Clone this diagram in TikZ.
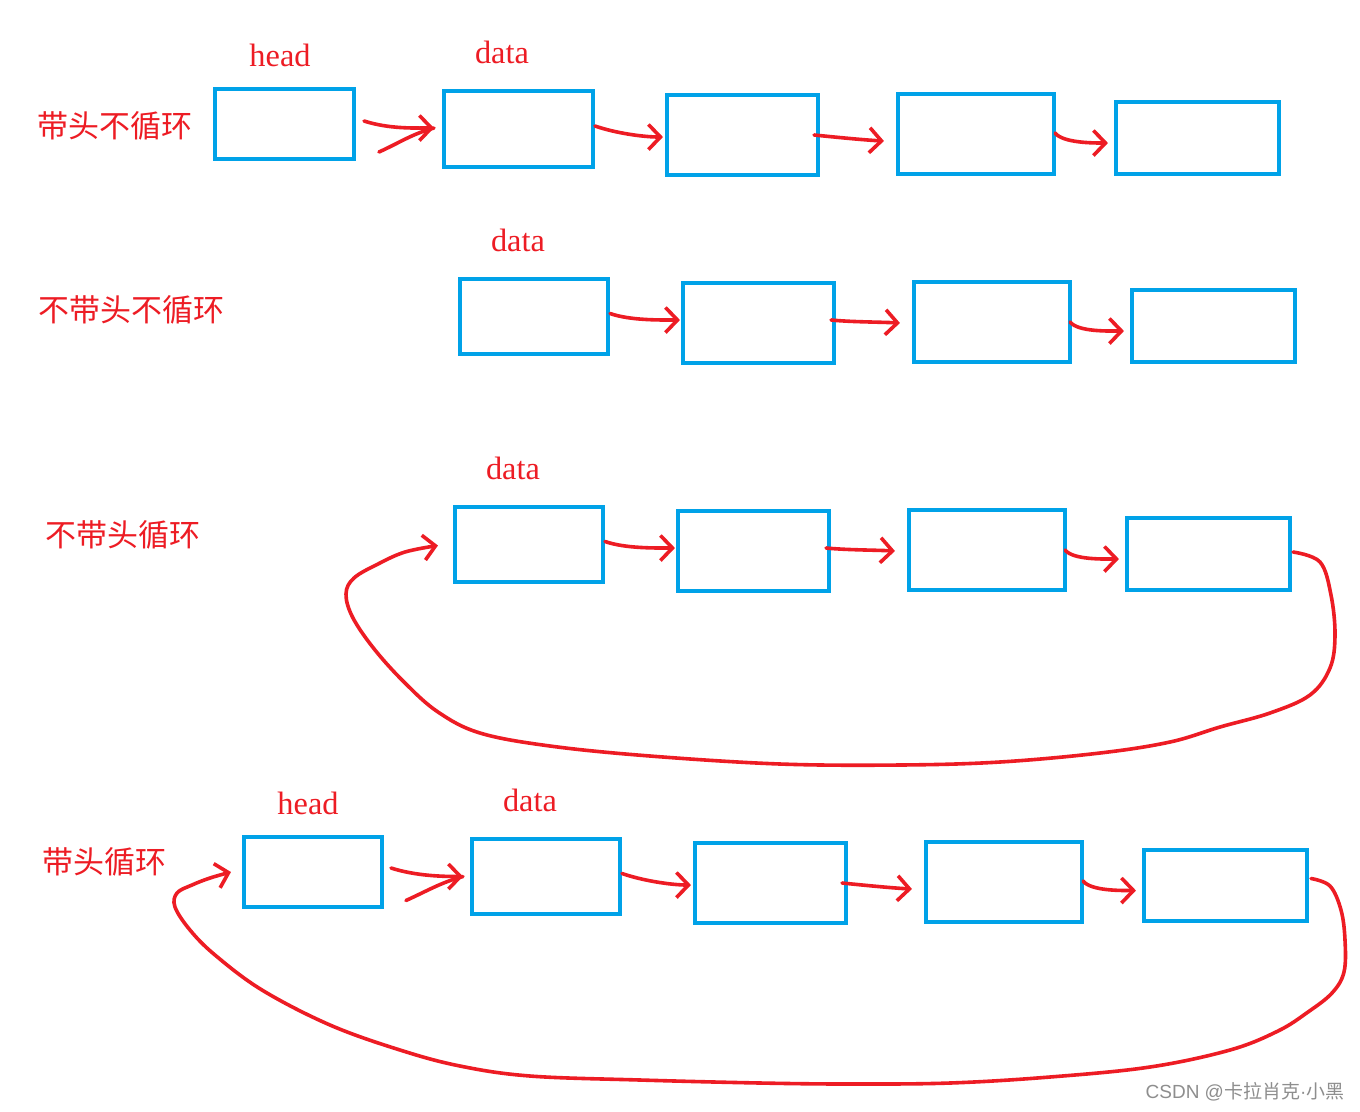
\documentclass[tikz,border=0pt]{standalone}
\usepackage{fontspec}
\setmainfont{Liberation Serif}
\newfontfamily\cjk{Noto Sans CJK SC}
\newfontfamily\latsans{Liberation Sans}
\usetikzlibrary{arrows.meta,calc}
\definecolor{pblue}{HTML}{00A2E8}
\definecolor{pred}{HTML}{ED1C24}
\definecolor{wmgray}{HTML}{8E8E8E}
\begin{document}
\begin{tikzpicture}[x=0.01cm,y=-0.01cm,
  box/.style 2 args={draw=pblue,line width=0.04cm,inner sep=0,outer sep=0,minimum width=#1cm,minimum height=#2cm},
  link/.style={draw=pred,line width=0.036cm,line cap=round,line join=round,-{Straight Barb[length=0.12cm,width=0.25cm]}},
  stroke/.style={draw=pred,line width=0.036cm,line cap=round,line join=round},
  lab/.style={text=pred,font=\cjk\fontsize{8.8pt}{10pt}\selectfont,anchor=west,inner sep=0},
  word/.style={text=pred,font=\fontsize{9.2pt}{10pt}\selectfont,inner sep=0},
  wm/.style={text=wmgray,font=\cjk\fontsize{5.4pt}{6pt}\selectfont,anchor=east,inner sep=0}
]
\useasboundingbox (0,0) rectangle (1360,1111);
\fill[white] (0,0) rectangle (1360,1111);

% ---------- labels ----------
\node[lab] (t1) at (37,126) {带头不循环};
\node[lab] (t2) at (38,310) {不带头不循环};
\node[lab] (t3) at (45,535) {不带头循环};
\node[lab] (t4) at (42,862) {带头循环};

\node[word] (h1) at (280,55) {head};
\node[word] (d1) at (502,52) {data};
\node[word] (d2) at (518,240) {data};
\node[word] (d3) at (513,468) {data};
\node[word] (h4) at (308,803) {head};
\node[word] (d4) at (530,800) {data};

\node[wm] (wmk) at (1345,1092) {{\latsans CSDN @}卡拉肖克{\latsans ·}小黑};

% ---------- row 1 ----------
\node[box={1.39}{0.70}] (r1b1) at (284.5,124) {};
\node[box={1.49}{0.76}] (r1b2) at (518.5,129) {};
\node[box={1.51}{0.80}] (r1b3) at (742.5,135) {};
\node[box={1.56}{0.80}] (r1b4) at (976,134) {};
\node[box={1.63}{0.72}] (r1b5) at (1197.5,138) {};

\coordinate (r1s1) at ($(r1b1.east)+(10,-3)$);
\coordinate (r1e1) at ($(r1b2.west)+(-10,-1)$);
\draw[link] (r1s1) .. controls +(25,8) and +(-20,0) .. (r1e1);
\draw[stroke] (r1e1) .. controls +(-22,6) and +(22,-10) .. ($(r1e1)+(-55,24)$);
\draw[link] ($(r1b2.east)+(2,-3)$) .. controls +(20,7) and +(-20,0) .. ($(r1b3.west)+(-4,2)$);
\draw[link] ($(r1b3.east)+(-4,0)$) .. controls +(20,2) and +(-20,-1) .. ($(r1b4.west)+(-14,7)$);
\draw[link] ($(r1b4.east)+(1,-1)$) .. controls +(8,10) and +(-15,0) .. ($(r1b5.west)+(-8,5)$);

% ---------- row 2 ----------
\node[box={1.48}{0.75}] (r2b1) at (534,316.5) {};
\node[box={1.51}{0.80}] (r2b2) at (758.5,323) {};
\node[box={1.56}{0.80}] (r2b3) at (992,322) {};
\node[box={1.63}{0.72}] (r2b4) at (1213.5,326) {};

\draw[link] ($(r2b1.east)+(2,-3)$) .. controls +(20,7) and +(-20,0) .. ($(r2b2.west)+(-3,-3)$);
\draw[link] ($(r2b2.east)+(-3,-3)$) .. controls +(20,2) and +(-20,-1) .. ($(r2b3.west)+(-14,1)$);
\draw[link] ($(r2b3.east)+(0,0)$) .. controls +(8,10) and +(-15,0) .. ($(r2b4.west)+(-8,5)$);

% ---------- row 3 ----------
\node[box={1.48}{0.75}] (r3b1) at (529,544.5) {};
\node[box={1.51}{0.80}] (r3b2) at (753.5,551) {};
\node[box={1.56}{0.80}] (r3b3) at (987,550) {};
\node[box={1.63}{0.72}] (r3b4) at (1208.5,554) {};

\draw[link] ($(r3b1.east)+(2,-3)$) .. controls +(20,7) and +(-20,0) .. ($(r3b2.west)+(-3,-3)$);
\draw[link] ($(r3b2.east)+(-3,-3)$) .. controls +(20,2) and +(-20,-1) .. ($(r3b3.west)+(-14,1)$);
\draw[link] ($(r3b3.east)+(0,0)$) .. controls +(8,10) and +(-15,0) .. ($(r3b4.west)+(-8,5)$);

\coordinate (l3s) at ($(r3b4.east)+(3,-2)$);
\coordinate (l3e) at ($(r3b1.west)+(-17,1)$);
\draw[link] plot[smooth,tension=0.6] coordinates {(l3s) (1320,562) (1331,595) (1335,635) (1330,668) (1310,695) (1270,713) (1220,727) (1170,742) (1100,753) (1000,762) (900,765) (780,764) (650,756) (550,746) (480,733) (438,712) (405,683) (375,650) (353,618) (346,594) (354,578) (378,564) (405,552) (l3e)};

% ---------- row 4 ----------
\node[box={1.38}{0.70}] (r4b1) at (313,872) {};
\node[box={1.48}{0.75}] (r4b2) at (546,876.5) {};
\node[box={1.51}{0.80}] (r4b3) at (770.5,883) {};
\node[box={1.56}{0.80}] (r4b4) at (1004,882) {};
\node[box={1.63}{0.71}] (r4b5) at (1225.5,885.5) {};

\coordinate (r4s1) at ($(r4b1.east)+(9,-4)$);
\coordinate (r4e1) at ($(r4b2.west)+(-9,0)$);
\draw[link] (r4s1) .. controls +(25,8) and +(-20,0) .. (r4e1);
\draw[stroke] (r4e1) .. controls +(-22,6) and +(22,-10) .. ($(r4e1)+(-57,24)$);
\draw[link] ($(r4b2.east)+(2,-3)$) .. controls +(20,7) and +(-20,0) .. ($(r4b3.west)+(-4,2)$);
\draw[link] ($(r4b3.east)+(-4,0)$) .. controls +(20,2) and +(-20,-1) .. ($(r4b4.west)+(-14,7)$);
\draw[link] ($(r4b4.east)+(1,-1)$) .. controls +(8,10) and +(-15,0) .. ($(r4b5.west)+(-8,5)$);

\coordinate (l4s) at ($(r4b5.east)+(4,-7)$);
\coordinate (l4e) at ($(r4b1.west)+(-13,0)$);
\draw[link] plot[smooth,tension=0.6] coordinates {(l4s) (1330,886) (1341,910) (1345,940) (1344,972) (1332,993) (1308,1012) (1278,1031) (1230,1050) (1150,1067) (1050,1077) (950,1083) (850,1084) (760,1083) (640,1080) (530,1076) (460,1066) (400,1050) (330,1025) (262,990) (215,955) (190,930) (175,907) (177,893) (192,885) (210,878) (l4e)};
\end{tikzpicture}
\end{document}
